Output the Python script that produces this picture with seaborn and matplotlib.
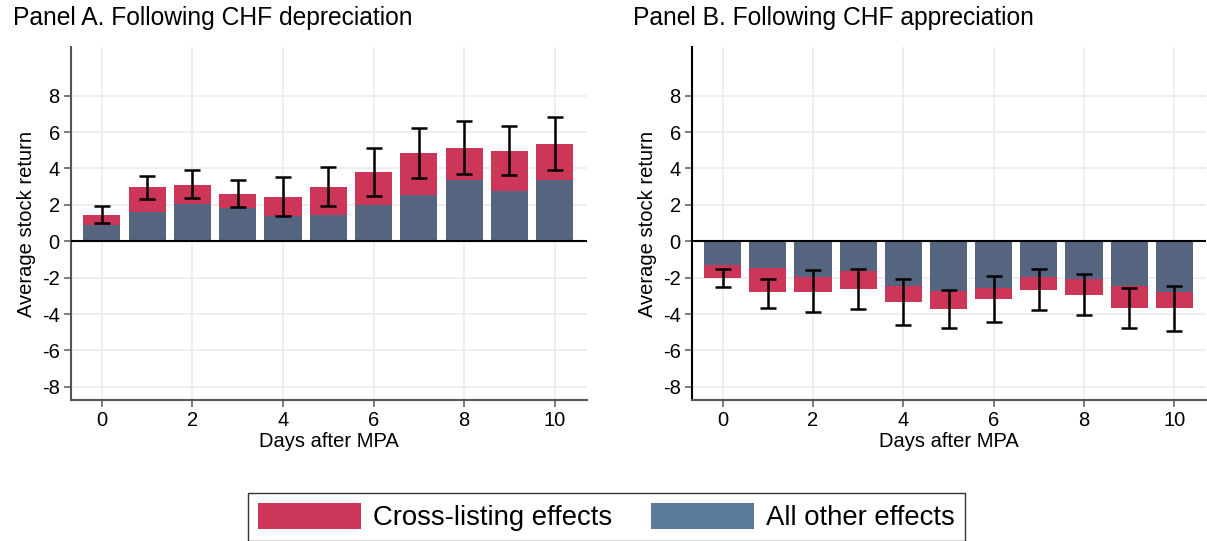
import numpy as np
import pandas as pd
import seaborn as sns
import matplotlib.pyplot as plt
from matplotlib.patches import Patch

# Days after the monetary policy announcement
days = list(range(11))

# Panel A: following CHF depreciation
a_other = [0.90, 1.61, 2.07, 1.85, 1.41, 1.44, 1.99, 2.54, 3.39, 2.76, 3.39]
a_cross = [0.54, 1.37, 1.02, 0.75, 1.02, 1.54, 1.82, 2.31, 1.74, 2.20, 1.96]
a_ci_low = [1.00, 2.32, 2.36, 1.87, 1.39, 1.94, 2.51, 3.48, 3.72, 3.63, 3.90]
a_ci_high = [1.94, 3.61, 3.90, 3.39, 3.55, 4.08, 5.13, 6.24, 6.63, 6.32, 6.81]

# Panel B: following CHF appreciation
b_other = [-1.30, -1.46, -1.99, -1.63, -2.43, -2.72, -2.54, -1.96, -2.08, -2.45, -2.76]
b_cross = [-0.70, -1.35, -0.77, -0.98, -0.88, -1.02, -0.62, -0.71, -0.86, -1.24, -0.93]
b_ci_low = [-2.50, -3.65, -3.91, -3.71, -4.59, -4.77, -4.42, -3.76, -4.04, -4.79, -4.95]
b_ci_high = [-1.50, -2.05, -1.57, -1.52, -2.05, -2.70, -1.92, -1.52, -1.81, -2.56, -2.43]

titles = ["Panel A. Following CHF depreciation", "Panel B. Following CHF appreciation"]

red = "#cc3658"
blue = "#55657f"
legend_blue = "#5b7a99"

sns.set_style("whitegrid", {"grid.color": "#ebebeb", "axes.edgecolor": "#666666"})
plt.rcParams["font.family"] = ["Liberation Sans", "DejaVu Sans"]
plt.rcParams["axes.unicode_minus"] = False
plt.rcParams["text.color"] = "black"
plt.rcParams["axes.labelcolor"] = "black"

fig = plt.figure(figsize=(12.07, 5.41), dpi=100)
ax_a = fig.add_axes([0.0588, 0.2606, 0.4275, 0.6525])
ax_b = fig.add_axes([0.5733, 0.2606, 0.4262, 0.6525])

panels = [
    (ax_a, a_other, a_cross, a_ci_low, a_ci_high),
    (ax_b, b_other, b_cross, b_ci_low, b_ci_high),
]

for i, (ax, other, cross, lo, hi) in enumerate(panels):
    df = pd.DataFrame({"day": days, "other": other, "cross": cross})
    df["total"] = df["other"] + df["cross"]

    # total bar in red, then the other-effects part on top in blue
    sns.barplot(data=df, x="day", y="total", color=red, saturation=1,
                width=0.82, native_scale=True, ax=ax, zorder=2,
                linewidth=0, edgecolor="none")
    sns.barplot(data=df, x="day", y="other", color=blue, saturation=1,
                width=0.82, native_scale=True, ax=ax, zorder=2,
                linewidth=0, edgecolor="none")

    total = df["total"].to_numpy()
    yerr = [total - np.array(lo), np.array(hi) - total]
    ax.errorbar(days, total, yerr=yerr, fmt="none", ecolor="black",
                elinewidth=1.8, capsize=6, capthick=1.8, zorder=4)

    ax.axhline(0, color="black", lw=1.5, zorder=3)

    ax.set_xlim(-0.68, 10.71)
    ax.set_ylim(-8.72, 10.67)
    ax.set_xticks(range(0, 11, 2))
    ax.set_yticks(range(-8, 9, 2))
    ax.tick_params(axis="both", labelsize=14.5, length=5, width=1.2,
                   color="#666666", labelcolor="black", pad=3,
                   left=True, bottom=True)
    ax.set_xlabel("Days after MPA", fontsize=14.5, labelpad=1)
    ax.set_ylabel("Average stock return", fontsize=14.5, labelpad=4)
    ax.grid(True, color="#ebebeb", lw=1.2)
    ax.set_axisbelow(True)
    for side in ["top", "right"]:
        ax.spines[side].set_visible(False)
    for side in ["left", "bottom"]:
        ax.spines[side].set_linewidth(1.5)
        ax.spines[side].set_color("#555555")

ax_b.spines["left"].set_color("black")

fig.text(13 / 1207, 1 - 18 / 541, titles[0], fontsize=17.7, va="center", ha="left")
fig.text(633 / 1207, 1 - 18 / 541, titles[1], fontsize=17.7, va="center", ha="left")

handles = [Patch(facecolor=red, edgecolor="none"),
           Patch(facecolor=legend_blue, edgecolor="none")]
leg = fig.legend(handles, ["Cross-listing effects", "All other effects"],
                 loc="lower center", bbox_to_anchor=(0.5025, 0.0), ncol=2,
                 fontsize=19.8, frameon=True, fancybox=False, handlelength=3.75,
                 handleheight=1.1, columnspacing=1.4, handletextpad=0.45,
                 borderpad=0.35, borderaxespad=0.0)
leg.get_frame().set_edgecolor("black")
leg.get_frame().set_linewidth(1.0)

fig.savefig("out.png", dpi=100)
